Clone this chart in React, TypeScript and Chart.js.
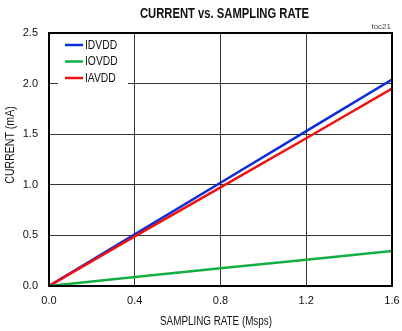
import React, { useEffect, useRef } from "react";
import { Chart, registerables } from "chart.js";
Chart.register(...registerables);

const xValues = [0, 0.4, 0.8, 1.2, 1.6];
const idvdd = [0, 0.51, 1.02, 1.53, 2.04];
const iovdd = [0, 0.09, 0.175, 0.26, 0.345];
const iavdd = [0, 0.49, 0.975, 1.46, 1.95];
const seriesNames = ["IDVDD", "IOVDD", "IAVDD"];
const seriesColors = ["#0a2fd8", "#12b040", "#f01010"];
const xTicks = [0, 0.4, 0.8, 1.2, 1.6];
const yTicks = [0, 0.5, 1.0, 1.5, 2.0, 2.5];
const chartTitle = "CURRENT vs. SAMPLING RATE";
const xTitle = "SAMPLING RATE (Msps)";
const yTitle = "CURRENT (mA)";

const FONT = "'Liberation Sans', Arial, sans-serif";

function narrowText(ctx: any, text: string, x: number, y: number, font: string, squeeze: number, rot = 0, align = "center") {
  ctx.save();
  ctx.translate(x, y);
  if (rot) ctx.rotate(rot);
  ctx.scale(squeeze, 1);
  ctx.font = font;
  ctx.textAlign = align;
  ctx.textBaseline = "middle";
  ctx.fillText(text, 0, 0);
  ctx.restore();
}

const decor = {
  id: "decor",
  beforeDatasetsDraw(chart: any) {
    const { ctx, chartArea: a } = chart;
    ctx.save();
    ctx.fillStyle = "#fff";
    ctx.fillRect(a.left + 9, a.top + 4, 70, 50);
    ctx.restore();
  },
  afterDatasetsDraw(chart: any) {
    const { ctx, chartArea: a } = chart;
    ctx.save();
    seriesNames.forEach((n, i) => {
      const y = a.top + 12 + i * 16.5;
      ctx.strokeStyle = seriesColors[i];
      ctx.lineWidth = 2.5;
      ctx.beginPath();
      ctx.moveTo(a.left + 16, y);
      ctx.lineTo(a.left + 34, y);
      ctx.stroke();
      ctx.fillStyle = "#111";
      narrowText(ctx, n, a.left + 36, y + 0.5, `12px ${FONT}`, 0.86, 0, "left");
    });
    ctx.strokeStyle = "#000";
    ctx.lineWidth = 2;
    ctx.strokeRect(a.left, a.top, a.right - a.left, a.bottom - a.top);
    ctx.fillStyle = "#111";
    narrowText(ctx, chartTitle, 224.5, 14, `bold 15px ${FONT}`, 0.75);
    narrowText(ctx, xTitle, 216, 322, `12px ${FONT}`, 0.82);
    narrowText(ctx, yTitle, 11, 145, `12px ${FONT}`, 0.88, -Math.PI / 2);
    ctx.textAlign = "right";
    ctx.textBaseline = "middle";
    ctx.font = `8px ${FONT}`;
    ctx.fillStyle = "#444";
    ctx.fillText("toc21", 391, 27);
    ctx.restore();
  },
};

export default function App() {
  const ref = useRef<HTMLCanvasElement>(null);
  useEffect(() => {
    document.body.style.margin = "0";
    const datasets = [idvdd, iovdd, iavdd].map((arr, i) => ({
      label: seriesNames[i],
      data: xValues.map((x, j) => ({ x, y: arr[j] })),
      borderColor: seriesColors[i],
      borderWidth: 2.5,
      pointRadius: 0,
      fill: false,
      tension: 0,
    }));
    const order = [1, 2, 0].map((i) => datasets[i]);
    const chart = new Chart(ref.current!, {
      type: "line",
      data: { datasets: order },
      plugins: [decor],
      options: {
        animation: false,
        responsive: false,
        maintainAspectRatio: false,
        layout: { padding: { top: 33, right: 10, left: 0, bottom: 0 } },
        plugins: { legend: { display: false }, tooltip: { enabled: false } },
        scales: {
          x: {
            type: "linear",
            min: 0,
            max: 1.6,
            afterBuildTicks: (s: any) => {
              s.ticks = xTicks.map((v) => ({ value: v }));
            },
            afterFit: (s: any) => {
              s.height = 45;
              s.paddingLeft = 0;
              s.paddingRight = 0;
            },
            ticks: {
              callback: (v: any) => Number(v).toFixed(1),
              font: { family: FONT, size: 11 },
              color: "#111",
              padding: 8,
              maxRotation: 0,
            },
            grid: { color: "#333", lineWidth: 1, drawTicks: false },
            border: { display: false },
          },
          y: {
            type: "linear",
            min: 0,
            max: 2.5,
            afterBuildTicks: (s: any) => {
              s.ticks = yTicks.map((v) => ({ value: v }));
            },
            afterFit: (s: any) => {
              s.width = 49;
              s.paddingTop = 0;
              s.paddingBottom = 0;
            },
            ticks: {
              callback: (v: any) => Number(v).toFixed(1),
              font: { family: FONT, size: 11 },
              color: "#111",
              padding: 11,
            },
            grid: { color: "#333", lineWidth: 1, drawTicks: false },
            border: { display: false },
          },
        },
      },
    });
    return () => chart.destroy();
  }, []);
  return <canvas ref={ref} width={402} height={331} style={{ display: "block" }} />;
}
